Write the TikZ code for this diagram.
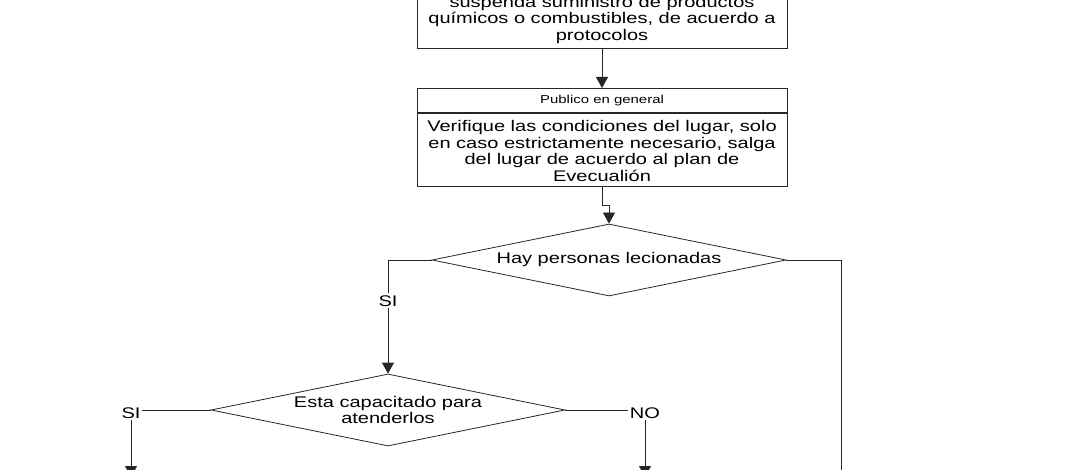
\documentclass[tikz,border=0pt]{standalone}
\usepackage{fontspec}
\setmainfont{Liberation Sans}[FakeStretch=1.3]
\usetikzlibrary{positioning,shapes.geometric,arrows.meta}

\begin{document}
\begin{tikzpicture}[x=1pt,y=-1pt,
		caja/.style={draw=black!85,line width=0.8pt,minimum width=370pt,align=center,font=\fontsize{15.4}{16.5}\selectfont},
		decision/.style={draw=black!85,line width=0.8pt,diamond,aspect=4.9,inner sep=0pt,minimum width=354pt,minimum height=72pt,align=center,font=\fontsize{15.4}{16.5}\selectfont},
		linea/.style={draw=black!85,line width=0.8pt},
		flecha/.style={linea,-{Triangle[width=12pt,length=11pt]}},
		lbl/.style={fill=white,inner sep=2pt,font=\fontsize{15.4}{16.5}\selectfont}]
			\useasboundingbox (0,0) rectangle (1070,470);
			\clip (0,0) rectangle (1070,470);
			
			\node[caja,anchor=south,inner ysep=5pt] (susp) at (602,49) {suspenda suministro de productos\\químicos o combustibles, de acuerdo a\\protocolos};
			\node[caja,anchor=north,minimum height=24pt,font=\fontsize{11.5}{13}\selectfont] (pub) at (602,88) {Publico en general};
			\node[caja,below=0pt of pub,minimum height=73pt,inner ysep=2pt] (verif) {\rule{0pt}{14pt}Verifique las condiciones del lugar, solo\\en caso estrictamente necesario, salga\\del lugar de acuerdo al plan de\\Evecualión};
			\node[decision] (hay) at (609,260) {Hay personas lecionadas};
			\node[decision] (cap) at (388,410) {Esta capacitado para\\atenderlos};
			\coordinate (finSI) at (131,477);
			\coordinate (finNO) at (645,477);
			\coordinate (finR) at (841,490);
			
			\draw[flecha] (susp) -- (pub);
			\draw[flecha] (verif.south) -- ++(0,19) -| (hay.north);
			\draw[flecha] (hay.west) -| node[lbl,pos=0.68] {SI} (cap.north);
			\draw[linea] (hay.east) -| (finR);
			\draw[flecha] (cap.west) -| node[lbl,pos=0.5,yshift=-3pt] {SI} (finSI);
			\draw[flecha] (cap.east) -| node[lbl,pos=0.5,yshift=-3pt] {NO} (finNO);
		\end{tikzpicture}
\end{document}
